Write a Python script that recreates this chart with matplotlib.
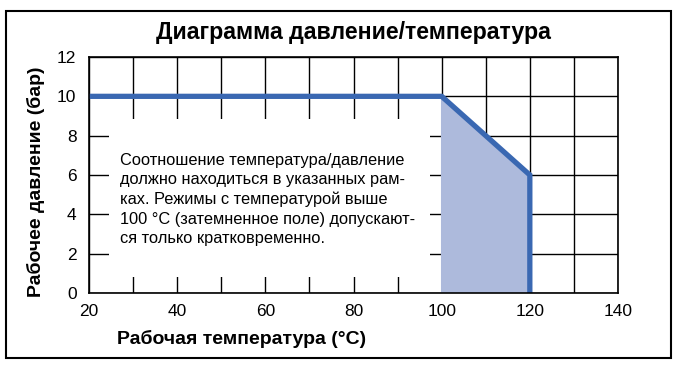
import matplotlib.pyplot as plt
from matplotlib.patches import Rectangle

plt.rcParams['font.family'] = ['Liberation Sans', 'DejaVu Sans']

# pressure/temperature limit curve
temp = [20, 100, 120, 120]
pressure = [10, 10, 6, 0]
# shaded short-term zone
zone_t = [100, 100, 120, 120]
zone_p = [0, 10, 6, 0]

xticks = [20, 40, 60, 80, 100, 120, 140]
yticks = [0, 2, 4, 6, 8, 10, 12]

note = ("Соотношение температура/давление\n"
        "должно находиться в указанных рам-\n"
        "ках. Режимы с температурой выше\n"
        "100 °C (затемненное поле) допускают-\n"
        "ся только кратковременно.")

fig = plt.figure(figsize=(6.77, 3.71), dpi=100)
ax = fig.add_axes([89/677, 1 - 293/371, 529/677, 236/371])

ax.set_xlim(20, 140)
ax.set_ylim(0, 12)
ax.set_xticks(xticks)
ax.set_yticks(yticks)
ax.set_xticks(range(20, 141, 10), minor=True)
ax.grid(True, which='both', color='black', lw=1, zorder=1)
ax.tick_params(which='both', length=0)
ax.tick_params(labelsize=12.5)
ax.tick_params(axis='x', pad=8)
ax.tick_params(axis='y', pad=9)
for s in ax.spines.values():
    s.set_linewidth(1.2)
    s.set_zorder(5)

ax.fill(zone_t, zone_p, color='#adbadc', zorder=2)
ax.plot(temp, pressure, color='#3a68b2', lw=3.8, solid_joinstyle='miter',
        solid_capstyle='butt', zorder=4)

# white box behind the note hides the grid
ax.add_patch(Rectangle((24.5, 0.81), 72.9, 8.04, facecolor='white',
                       edgecolor='none', zorder=3))
ax.text(27, 4.75, note, fontsize=11.8, va='center', ha='left',
        linespacing=1.36, zorder=6)

fig.text(353/677, 1 - 33/371, "Диаграмма давление/температура",
         fontsize=16.7, fontweight='bold', ha='center', va='center')
fig.text(117/677, 1 - 339/371, "Рабочая температура (°C)",
         fontsize=14, fontweight='bold', ha='left', va='center')
fig.text(36/677, 1 - 182/371, "Рабочее давление (бар)",
         fontsize=14, fontweight='bold', ha='center', va='center',
         rotation=90)

# outer frame
fig.patches.append(Rectangle((6/677, 1 - 358/371), 665/677, 347/371,
                             transform=fig.transFigure, fill=False,
                             edgecolor='black', lw=1.5))

fig.savefig("out.png", dpi=100)
